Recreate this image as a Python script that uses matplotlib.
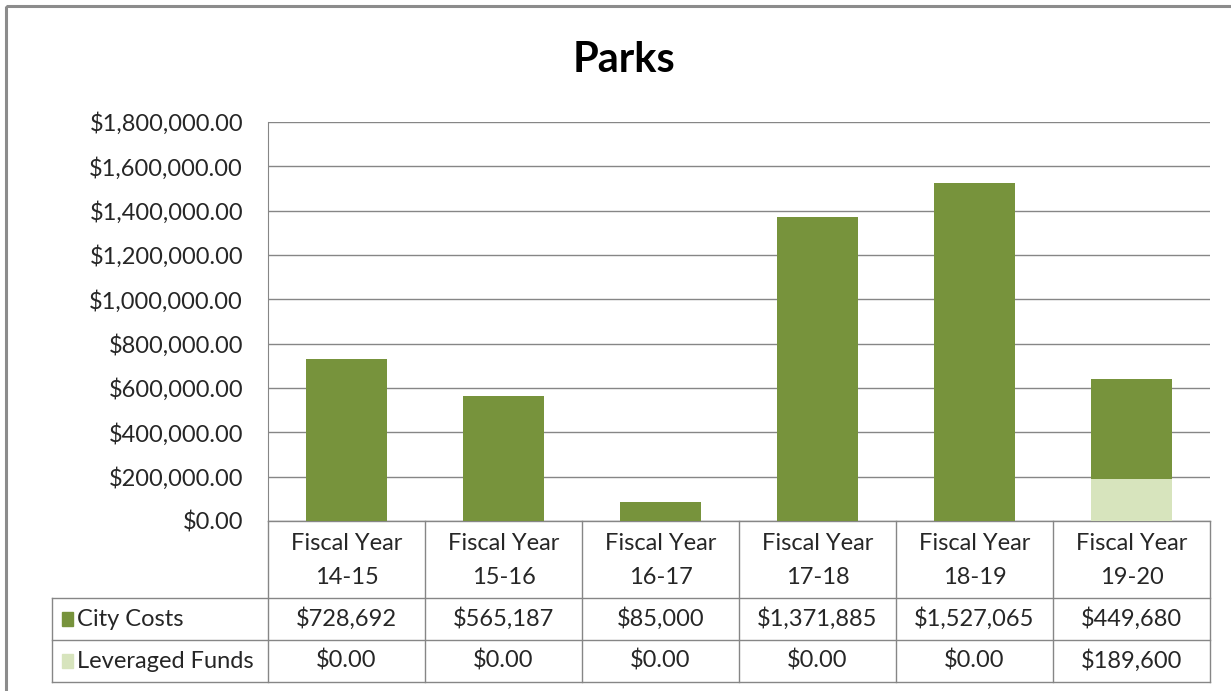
import matplotlib.pyplot as plt
import matplotlib.transforms as mtransforms
from matplotlib.patches import Rectangle
from matplotlib.ticker import FuncFormatter

plt.rcParams['font.family'] = ['Lato', 'DejaVu Sans']

years = ["Fiscal Year\n14-15", "Fiscal Year\n15-16", "Fiscal Year\n16-17",
         "Fiscal Year\n17-18", "Fiscal Year\n18-19", "Fiscal Year\n19-20"]
city_costs = [728692, 565187, 85000, 1371885, 1527065, 449680]
leveraged = [0, 0, 0, 0, 0, 189600]
city_labels = ["$728,692", "$565,187", "$85,000", "$1,371,885", "$1,527,065", "$449,680"]
lev_labels = ["$0.00", "$0.00", "$0.00", "$0.00", "$0.00", "$189,600"]
series = ["City Costs", "Leveraged Funds"]

dark = "#77933C"
light = "#D7E4BD"
grid_c = "#868686"
txt_c = "#262626"
fs = 17

W, H = 1231, 691
fig = plt.figure(figsize=(W / 100, H / 100), dpi=100)

# overlay in pixel coords for the frame and table
ov = fig.add_axes([0, 0, 1, 1])
ov.set_xlim(0, W)
ov.set_ylim(H, 0)
ov.axis("off")

ax = fig.add_axes([268 / W, (H - 521) / H, (1210 - 268) / W, (521 - 122) / H])
x = list(range(len(years)))
ax.bar(x, leveraged, width=0.52, color=light, zorder=3)
ax.bar(x, city_costs, width=0.52, bottom=leveraged, color=dark, zorder=3)
ax.set_xlim(-0.5, len(years) - 0.5)
ax.set_ylim(0, 1800000)
ax.set_yticks(range(0, 1800001, 200000))
ax.yaxis.set_major_formatter(FuncFormatter(lambda v, p: "${:,.2f}".format(v)))
ax.tick_params(axis="y", length=0, labelsize=fs, labelcolor=txt_c, pad=18)
ax.tick_params(axis="x", length=0, labelbottom=False)
ax.grid(axis="y", color=grid_c, lw=1, zorder=0)
for s in ["top", "right", "bottom"]:
    ax.spines[s].set_visible(False)
ax.spines["left"].set_color(grid_c)
ax.patch.set_alpha(0)

# outer chart border
ov.add_patch(Rectangle((6, 6), W + 20, H + 20, fill=False, ec="#8c8c8c", lw=2.2))

ov.text(W / 2 + 8, 60, "Parks", ha="center", va="center", fontsize=30,
        fontweight="bold", color="black")

# data table
tr = mtransforms.blended_transform_factory(ax.transData, ov.transData)
lc = grid_c
xl, xr = -0.5, len(years) - 0.5
ov.plot([xl, xr], [521, 521], color=lc, lw=1, transform=tr)
for yy in [598, 640, 682]:
    ov.plot([52, 1210], [yy, yy], color=lc, lw=1)
for i in range(len(years) + 1):
    ov.plot([i - 0.5, i - 0.5], [521, 682], color=lc, lw=1, transform=tr)
ov.plot([52, 52], [598, 682], color=lc, lw=1)

for i, lab in enumerate(years):
    top, bot = lab.split("\n")
    ov.text(i, 543, top, ha="center", va="center", fontsize=fs, color=txt_c, transform=tr)
    ov.text(i, 577, bot, ha="center", va="center", fontsize=fs, color=txt_c, transform=tr)
    ov.text(i, 619, city_labels[i], ha="center", va="center", fontsize=fs, color=txt_c, transform=tr)
    ov.text(i, 661, lev_labels[i], ha="center", va="center", fontsize=fs, color=txt_c, transform=tr)

for (name, col, yc) in [(series[0], dark, 619), (series[1], light, 661)]:
    ov.add_patch(Rectangle((62, yc - 7), 11, 14, color=col))
    ov.text(77, yc, name, ha="left", va="center", fontsize=fs, color=txt_c)

fig.savefig("out.png", dpi=100, facecolor="white")
